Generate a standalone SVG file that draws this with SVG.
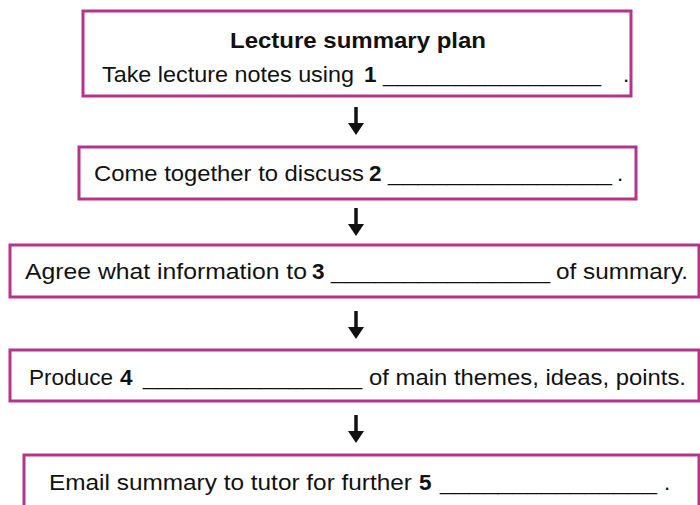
<svg xmlns="http://www.w3.org/2000/svg" width="700" height="505" viewBox="0 0 700 505">
<defs>
<style>
.box{fill:#fff;stroke:#b5338a;stroke-width:3}
.t{font-family:"Liberation Sans",Arial,sans-serif;font-size:22.5px;fill:#111}
.b{font-weight:bold}
.arr{stroke:#111;stroke-width:3.5;fill:none}
.head{fill:#111}
</style>
</defs>
<rect width="700" height="505" fill="#fff"/>
<g id="connectors">
<line class="arr" x1="356" y1="107" x2="356" y2="126"/><polygon class="head" points="348,123 364,123 356,135"/>
<line class="arr" x1="356" y1="208" x2="356" y2="227"/><polygon class="head" points="348,224 364,224 356,236"/>
<line class="arr" x1="356" y1="311" x2="356" y2="330"/><polygon class="head" points="348,327 364,327 356,339"/>
<line class="arr" x1="356" y1="415" x2="356" y2="434"/><polygon class="head" points="348,431 364,431 356,443"/>
</g>
<g id="node1">
<rect class="box" x="83" y="11" width="548" height="85"/>
<text class="t b" x="230" y="48" textLength="256" lengthAdjust="spacingAndGlyphs">Lecture summary plan</text>
<text class="t" x="102" y="82" textLength="252" lengthAdjust="spacingAndGlyphs">Take lecture notes using</text>
<text class="t b" x="364" y="82">1</text>
<text class="t" x="383" y="82" textLength="218" lengthAdjust="spacingAndGlyphs">_______________</text>
<text class="t" x="623" y="82">.</text>
</g>
<g id="node2">
<rect class="box" x="79" y="147" width="557" height="52"/>
<text class="t" x="94" y="181" textLength="270" lengthAdjust="spacingAndGlyphs">Come together to discuss</text>
<text class="t b" x="369" y="181">2</text>
<text class="t" x="388" y="181" textLength="224" lengthAdjust="spacingAndGlyphs">_______________</text>
<text class="t" x="617" y="181">.</text>
</g>
<g id="node3">
<rect class="box" x="10" y="245" width="689" height="52"/>
<text class="t" x="25" y="279" textLength="282" lengthAdjust="spacingAndGlyphs">Agree what information to</text>
<text class="t b" x="312" y="279">3</text>
<text class="t" x="331" y="279" textLength="219" lengthAdjust="spacingAndGlyphs">_______________</text>
<text class="t" x="556" y="279" textLength="132" lengthAdjust="spacingAndGlyphs">of summary.</text>
</g>
<g id="node4">
<rect class="box" x="10" y="350" width="689" height="51"/>
<text class="t" x="29" y="385" textLength="84" lengthAdjust="spacingAndGlyphs">Produce</text>
<text class="t b" x="120" y="385">4</text>
<text class="t" x="143" y="385" textLength="219" lengthAdjust="spacingAndGlyphs">_______________</text>
<text class="t" x="369" y="385" textLength="317" lengthAdjust="spacingAndGlyphs">of main themes, ideas, points.</text>
</g>
<g id="node5">
<rect class="box" x="24" y="455" width="675" height="60"/>
<text class="t" x="49" y="490" textLength="363" lengthAdjust="spacingAndGlyphs">Email summary to tutor for further</text>
<text class="t b" x="419" y="490">5</text>
<text class="t" x="440" y="490" textLength="217" lengthAdjust="spacingAndGlyphs">_______________</text>
<text class="t" x="664" y="490">.</text>
</g>
</svg>
